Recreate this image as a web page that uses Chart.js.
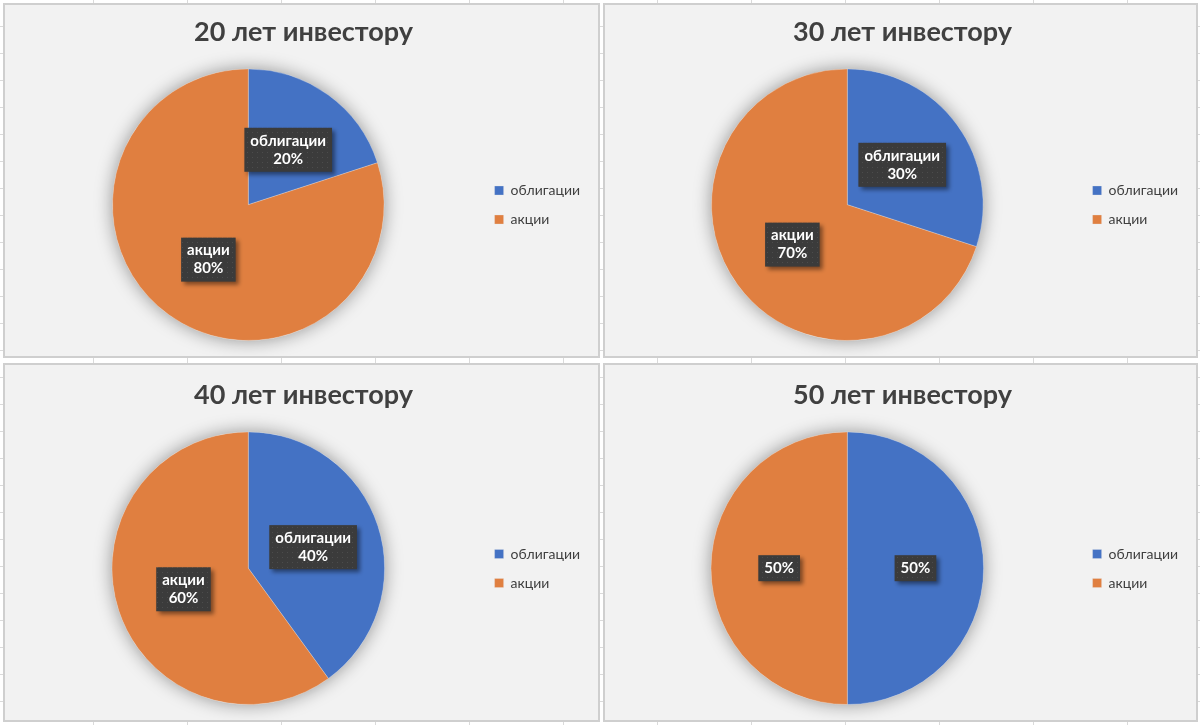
<!DOCTYPE html>
<html>
<head>
<meta charset="utf-8">
<script src="https://cdn.jsdelivr.net/npm/chart.js@4.4.1/dist/chart.umd.min.js"></script>
<style>
  body {
    margin: 0;
    width: 1200px;
    height: 725px;
    position: relative;
    overflow: hidden;
    background-color: #fff;
    background-image:
      repeating-linear-gradient(to right, transparent 0, transparent 93px, #dadada 93px, #dadada 94px),
      repeating-linear-gradient(to bottom, transparent 0, transparent 26px, #dadada 26px, #dadada 27px);
  }
  .panel {
    position: absolute;
    box-sizing: border-box;
    border: 2px solid #cfcfcf;
    background: #f2f2f2;
  }
  .panel canvas { display: block; }
</style>
</head>
<body>
<div class="panel" style="left:3px;top:3px;width:597px;height:355px"><canvas id="c0" width="593" height="351"></canvas></div>
<div class="panel" style="left:603px;top:3px;width:595px;height:355px"><canvas id="c1" width="591" height="351"></canvas></div>
<div class="panel" style="left:3px;top:363px;width:597px;height:359px"><canvas id="c2" width="593" height="355"></canvas></div>
<div class="panel" style="left:603px;top:363px;width:595px;height:359px"><canvas id="c3" width="591" height="355"></canvas></div>

<script>
// Данные
const titles = ['20 лет инвестору', '30 лет инвестору', '40 лет инвестору', '50 лет инвестору'];
const categories = ['облигации', 'акции'];
const bondShare = [20, 30, 40, 50];
const stockShare = [80, 70, 60, 50];
// в последнем графике подписи только с процентами
const showCategoryName = [true, true, true, false];

const colors = ['#4472c4', '#e07f40'];
const textColor = '#404040';
const fontFamily = 'Lato, "Open Sans", sans-serif';

// тень под кругом
const pieShadow = {
  id: 'pieShadow',
  beforeDatasetsDraw(chart) {
    const arc = chart.getDatasetMeta(0).data[0];
    if (!arc) return;
    const ctx = chart.ctx;
    ctx.save();
    ctx.shadowColor = 'rgba(0,0,0,0.4)';
    ctx.shadowBlur = 18;
    ctx.fillStyle = '#f2f2f2';
    ctx.beginPath();
    ctx.arc(arc.x, arc.y, arc.outerRadius, 0, Math.PI * 2);
    ctx.fill();
    ctx.restore();
  }
};

// узор для плашек с подписями
function makeDots() {
  const p = document.createElement('canvas');
  p.width = 5; p.height = 5;
  const pc = p.getContext('2d');
  pc.fillStyle = '#3b3b3b';
  pc.fillRect(0, 0, 5, 5);
  pc.fillStyle = '#4c4c4c';
  pc.fillRect(2, 2, 1, 1);
  return p;
}
const dotsCanvas = makeDots();

// подписи данных в тёмных плашках
const boxLabels = {
  id: 'boxLabels',
  afterDatasetsDraw(chart, args, opts) {
    const ctx = chart.ctx;
    const ds = chart.data.datasets[0];
    const total = ds.data.reduce((a, b) => a + b, 0);
    chart.getDatasetMeta(0).data.forEach((arc, i) => {
      const mid = (arc.startAngle + arc.endAngle) / 2;
      const r = arc.outerRadius * 0.5;
      const x = arc.x + Math.cos(mid) * r;
      const y = arc.y + Math.sin(mid) * r;
      const pct = Math.round(ds.data[i] / total * 100) + '%';
      const lines = opts.showName ? [chart.data.labels[i], pct] : [pct];
      ctx.save();
      ctx.font = 'bold 15px ' + fontFamily;
      const w = Math.max(...lines.map(t => ctx.measureText(t).width)) + 12;
      const lh = 18;
      const h = lines.length * lh + 8;
      ctx.shadowColor = 'rgba(0,0,0,0.45)';
      ctx.shadowBlur = 4;
      ctx.shadowOffsetX = 3;
      ctx.shadowOffsetY = 3;
      ctx.fillStyle = ctx.createPattern(dotsCanvas, 'repeat');
      ctx.fillRect(x - w / 2, y - h / 2, w, h);
      ctx.shadowColor = 'transparent';
      ctx.fillStyle = '#ffffff';
      ctx.textAlign = 'center';
      ctx.textBaseline = 'middle';
      lines.forEach((t, k) => {
        ctx.fillText(t, x, y - h / 2 + 4 + lh * k + lh / 2);
      });
      ctx.restore();
    });
  }
};

titles.forEach((title, n) => {
  const ctx = document.getElementById('c' + n).getContext('2d');
  // нижний ряд чуть выше по высоте, сдвигаем содержимое вниз
  const topPad = n < 2 ? 10 : 13;
  new Chart(ctx, {
    type: 'pie',
    data: {
      labels: categories,
      datasets: [{
        data: [bondShare[n], stockShare[n]],
        backgroundColor: colors,
        borderColor: 'rgba(230,230,230,0.3)',
        borderWidth: 1,
      }],
    },
    plugins: [pieShadow, boxLabels],
    options: {
      responsive: false,
      animation: false,
      layout: {
        padding: { left: 12, right: 8, top: topPad, bottom: 15 }
      },
      plugins: {
        title: {
          display: true,
          text: title,
          color: textColor,
          font: { family: fontFamily, size: 27, weight: 'bold' },
          padding: { top: 1, bottom: 20 },
        },
        legend: {
          position: 'right',
          // пустой заголовок опускает легенду к центру круга
          title: {
            display: true,
            text: ' ',
            font: { size: 10 },
            padding: { top: 0, bottom: 42 },
          },
          labels: {
            color: textColor,
            boxWidth: 9,
            boxHeight: 9,
            padding: 15,
            font: { family: fontFamily, size: 14 },
          },
        },
        tooltip: { enabled: false },
        boxLabels: { showName: showCategoryName[n] },
      },
    },
  });
});
</script>
</body>
</html>
